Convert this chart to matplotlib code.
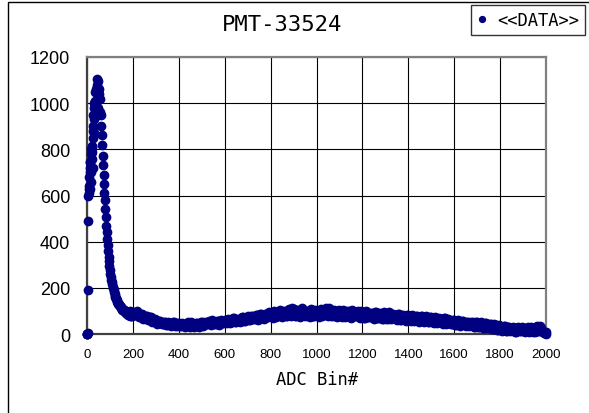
# Import necessary third-party libraries.
import numpy as np
import matplotlib
matplotlib.use("Agg")
import matplotlib.pyplot as plt
from matplotlib.patches import Rectangle

# Chart text.
title = "PMT-33524"
xlabel = "ADC Bin#"
series_name = "<<DATA>>"
x_ticks = [0, 200, 400, 600, 800, 1000, 1200, 1400, 1600, 1800, 2000]
y_ticks = [0, 200, 400, 600, 800, 1000, 1200]

# Peak region, bins 0..198 in steps of 2.
peak_bins = np.arange(0, 200, 2)
peak_counts = [
  0, 0, 190, 490, 610, 640, 700, 745, 660, 800,
  760, 815, 720, 880, 950, 870, 980, 1010, 940, 1060,
  1000, 1080, 1105, 1050, 1095, 980, 1040, 1060, 960, 1020,
  900, 950, 860, 820, 770, 730, 690, 650, 610, 580,
  540, 505, 470, 440, 410, 385, 360, 335, 315, 295,
  278, 262, 248, 236, 226, 215, 205, 198, 190, 180,
  172, 166, 160, 155, 150, 146, 140, 135, 132, 128,
  125, 120, 122, 115, 112, 118, 106, 110, 102, 108,
  98, 104, 96, 100, 92, 98, 90, 96, 86, 94,
  84, 92, 82, 98, 80, 90, 78, 96, 76, 88,
]

# Extra points of the rising edge.
edge_bins = [0, 1, 3, 5, 7, 9, 11, 13, 15, 17, 19, 21, 23, 25, 27, 29, 31, 33, 35]
edge_counts = [0, 0, 5, 600, 630, 680, 720, 628, 745, 700, 780, 810, 790, 850, 900, 1000, 930, 1050, 990]

# Tail region, bins 200..1990 in steps of 10.
tail_bins_a = np.arange(200, 2000, 10)
tail_counts_a = [
  95, 84, 98, 76, 88, 70, 79, 64, 72, 58,
  60, 47, 55, 43, 52, 40, 49, 38, 50, 36,
  46, 33, 44, 38, 50, 31, 42, 36, 47, 30,
  50, 38, 47, 56, 40, 53, 44, 58, 42, 55,
  62, 48, 60, 52, 68, 50, 64, 57, 72, 55,
  76, 60, 78, 64, 82, 68, 85, 66, 88, 72,
  92, 70, 95, 78, 102, 74, 98, 80, 108, 76,
  110, 78, 100, 72, 104, 80, 98, 74, 106, 79,
  100, 75, 108, 82, 112, 76, 104, 80, 98, 74,
  102, 72, 98, 78, 100, 70, 95, 76, 99, 68,
  96, 68, 92, 74, 90, 66, 94, 70, 88, 64,
  92, 64, 86, 70, 84, 60, 88, 62, 80, 58,
  84, 58, 80, 64, 78, 55, 76, 52, 74, 50,
  72, 48, 70, 52, 66, 44, 68, 46, 62, 42,
  60, 38, 58, 40, 56, 35, 54, 37, 50, 32,
  52, 30, 48, 28, 46, 26, 42, 22, 40, 18,
  36, 14, 34, 12, 30, 16, 28, 10, 32, 12,
  28, 10, 30, 12, 26, 8, 34, 14, 24, 6,
]

# Tail region, bins 205..1995 in steps of 10.
tail_bins_b = np.arange(205, 2000, 10)
tail_counts_b = [
  82, 90, 74, 86, 66, 80, 60, 74, 54, 66,
  45, 58, 42, 54, 38, 51, 36, 52, 34, 48,
  35, 48, 30, 45, 34, 52, 32, 46, 38, 50,
  36, 54, 42, 50, 60, 44, 56, 40, 60, 46,
  52, 66, 46, 70, 54, 62, 50, 74, 58, 68,
  62, 80, 66, 84, 62, 88, 70, 86, 74, 96,
  80, 98, 74, 100, 82, 96, 78, 104, 84, 112,
  80, 104, 76, 112, 82, 100, 76, 108, 80, 102,
  80, 104, 78, 100, 84, 114, 80, 106, 76, 100,
  76, 104, 74, 98, 72, 102, 78, 96, 72, 100,
  70, 98, 72, 92, 68, 96, 70, 90, 66, 94,
  66, 96, 64, 88, 68, 86, 62, 84, 60, 82,
  60, 82, 56, 80, 54, 78, 56, 76, 50, 72,
  50, 74, 46, 70, 48, 68, 44, 64, 42, 62,
  40, 60, 36, 58, 38, 54, 34, 52, 30, 50,
  30, 50, 26, 46, 24, 44, 20, 42, 18, 38,
  16, 34, 14, 32, 12, 30, 10, 28, 12, 30,
  12, 28, 10, 30, 8, 32, 14, 36, 10, 8,
]

# Last bins.
end_bins = [2000, 2000]
end_counts = [0, 10]

# Put all the series together.
bins = np.concatenate([peak_bins, edge_bins, tail_bins_a, tail_bins_b, end_bins])
counts = np.concatenate([peak_counts, edge_counts, tail_counts_a, tail_counts_b, end_counts])

# Plotting canvas.
fig = plt.figure(figsize=(5.89, 4.14), dpi=100)
ax = fig.add_axes([87/589, 1 - 335/414, 459/589, 277/414])

# Outer chart frame, cut off on the right and bottom.
fig.patches.append(Rectangle((7.5/589, -0.2), 1.2, 1.2 - 3/414,
                             transform=fig.transFigure, fill=False,
                             edgecolor="black", linewidth=1.0))

ax.plot(bins, counts, linestyle="none", marker="o", markersize=6,
        color="#000080", markeredgecolor="#000080", label=series_name,
        zorder=3, clip_on=False)

ax.set_xlim(0, 2000)
ax.set_ylim(0, 1200)
ax.set_xticks(x_ticks)
ax.set_yticks(y_ticks)
ax.grid(True, color="black", linewidth=0.8, zorder=1)
ax.set_axisbelow(True)
ax.tick_params(axis="x", length=0, pad=10)
ax.tick_params(axis="y", length=0, pad=12)

for label in ax.get_xticklabels():
  label.set_family("Liberation Sans")
  label.set_fontsize(9.5)
for label in ax.get_yticklabels():
  label.set_family("Liberation Sans")
  label.set_fontsize(13)

for side in ["top", "right"]:
  ax.spines[side].set_color("#808080")
  ax.spines[side].set_linewidth(1.6)
for side in ["left", "bottom"]:
  ax.spines[side].set_color("#404040")
  ax.spines[side].set_linewidth(1.6)

# Title and axis label.
fig.text(282/589, 1 - 25/414, title, ha="center", va="center",
         family="DejaVu Sans Mono", fontsize=16)
fig.text(317/589, 1 - 380/414, xlabel, ha="center", va="center",
         family="DejaVu Sans Mono", fontsize=12.3)

# Legend.
leg = fig.legend(loc="upper right", bbox_to_anchor=(585/589, 1 - 6/414),
                 frameon=True, fancybox=False, markerscale=0.7,
                 handlelength=0.6, handletextpad=0.6, borderpad=0.35,
                 borderaxespad=0.0,
                 prop={"family": "DejaVu Sans Mono", "size": 12.3})
leg.get_frame().set_edgecolor("black")
leg.get_frame().set_linewidth(1.0)

plt.savefig("out.png", dpi=100)
